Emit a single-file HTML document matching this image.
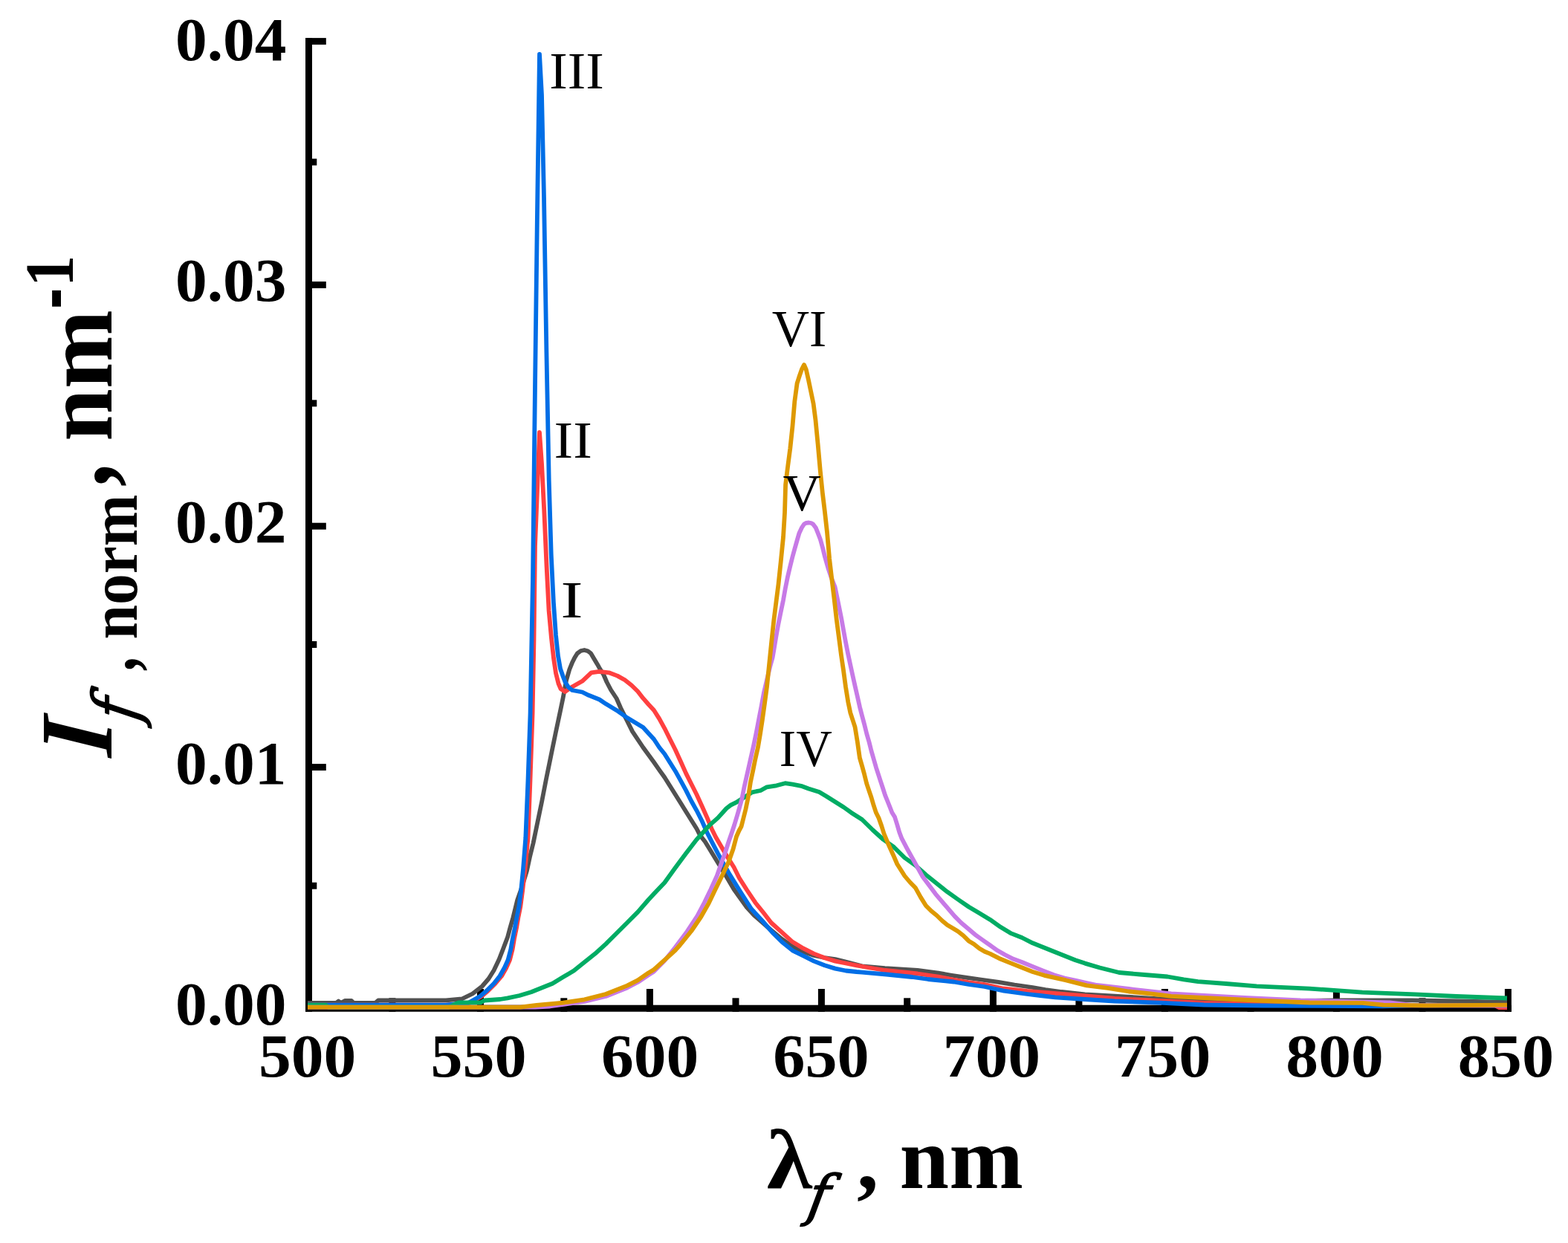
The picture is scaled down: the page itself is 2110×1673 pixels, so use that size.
<!DOCTYPE html>
<html lang="en"><head><meta charset="utf-8"><title>Normalized fluorescence spectra</title>
<style>html,body{margin:0;padding:0;background:#fff}body{width:2110px;height:1673px;overflow:hidden}svg{display:block}text{font-family:"Liberation Serif","DejaVu Serif",serif;fill:#000;font-kerning:none;white-space:pre}.c{fill:none;stroke-linejoin:round;stroke-linecap:butt}</style></head><body>
<svg width="2110" height="1673" viewBox="0 0 2110 1673">
<rect width="2110" height="1673" fill="#fff"/>
<g id="axes">
<rect x="411.00" y="51.00" width="9.00" height="1310.70" fill="#000"/>
<rect x="411.00" y="1352.70" width="1623.00" height="9.00" fill="#000"/>
<rect x="411.00" y="51.10" width="27.80" height="9.00" fill="#000"/>
<rect x="411.00" y="378.90" width="27.80" height="9.00" fill="#000"/>
<rect x="411.00" y="703.70" width="27.80" height="9.00" fill="#000"/>
<rect x="411.00" y="1028.10" width="27.80" height="9.00" fill="#000"/>
<rect x="411.00" y="213.60" width="15.30" height="9.00" fill="#000"/>
<rect x="411.00" y="538.30" width="15.30" height="9.00" fill="#000"/>
<rect x="411.00" y="863.00" width="15.30" height="9.00" fill="#000"/>
<rect x="411.00" y="1187.70" width="15.30" height="9.00" fill="#000"/>
<rect x="642.00" y="1331.00" width="9.00" height="30.70" fill="#000"/>
<rect x="869.90" y="1331.00" width="9.00" height="30.70" fill="#000"/>
<rect x="1100.90" y="1331.00" width="9.00" height="30.70" fill="#000"/>
<rect x="1331.90" y="1331.00" width="9.00" height="30.70" fill="#000"/>
<rect x="1562.90" y="1331.00" width="9.00" height="30.70" fill="#000"/>
<rect x="1793.90" y="1331.00" width="9.00" height="30.70" fill="#000"/>
<rect x="2024.90" y="1331.00" width="9.00" height="30.70" fill="#000"/>
<rect x="523.40" y="1343.30" width="9.00" height="18.40" fill="#000"/>
<rect x="754.30" y="1343.30" width="9.00" height="18.40" fill="#000"/>
<rect x="985.50" y="1343.30" width="9.00" height="18.40" fill="#000"/>
<rect x="1216.20" y="1343.30" width="9.00" height="18.40" fill="#000"/>
<rect x="1447.40" y="1343.30" width="9.00" height="18.40" fill="#000"/>
<rect x="1678.50" y="1343.30" width="9.00" height="18.40" fill="#000"/>
<rect x="1909.50" y="1343.30" width="9.00" height="18.40" fill="#000"/>
</g>
<g id="curves">
<polyline class="c" stroke="#515151" stroke-width="5.8" points="414.0,1350.0 452.0,1350.0 455.5,1347.5 459.0,1350.0 464.0,1347.0 473.0,1347.0 476.0,1350.0 505.0,1350.0 509.0,1346.5 600.0,1346.3 621.5,1344.5 635.9,1337.5 648.8,1327.5 657.4,1317.5 664.6,1306.0 671.7,1291.0 677.5,1276.0 683.2,1261.0 686.1,1250.0 690.4,1235.0 693.3,1223.3 696.1,1211.8 702.0,1195.0 709.0,1172.0 713.3,1152.0 717.6,1134.6 723.4,1106.5 729.1,1079.0 734.9,1049.0 741.3,1017.6 747.8,986.0 754.2,955.9 757.7,939.0 762.0,916.0 766.3,901.0 769.8,892.3 773.4,885.0 777.0,879.3 781.5,876.0 786.3,875.0 791.0,876.3 795.0,879.3 799.3,886.5 803.6,893.7 806.4,898.7 812.2,908.0 816.5,918.0 822.0,928.5 829.6,940.0 835.3,953.0 843.9,970.2 851.1,984.6 865.4,1006.0 880.0,1026.0 887.2,1036.3 894.3,1046.3 901.5,1057.8 908.7,1069.3 915.9,1080.8 923.0,1092.3 930.2,1103.7 937.4,1115.2 941.7,1123.8 948.9,1133.0 953.2,1140.0 966.0,1161.0 977.6,1180.0 987.6,1197.0 1004.8,1221.0 1014.9,1232.0 1037.8,1252.0 1052.2,1264.0 1066.5,1274.0 1080.9,1281.0 1095.2,1286.0 1109.6,1289.0 1123.9,1291.0 1138.0,1294.5 1160.0,1300.3 1190.8,1303.2 1234.6,1306.0 1262.6,1309.6 1279.0,1312.5 1297.7,1315.4 1320.0,1318.5 1343.6,1321.8 1365.2,1325.5 1389.6,1329.0 1406.8,1332.0 1428.3,1335.0 1460.0,1338.3 1500.0,1340.7 1560.0,1344.3 1620.0,1347.0 1700.0,1347.5 1800.0,1346.5 1900.0,1346.3 1960.0,1347.5 2028.0,1349.0"/>
<polyline class="c" stroke="#ff4040" stroke-width="5.8" points="414.0,1352.7 600.0,1352.7 632.0,1350.0 648.0,1341.0 656.5,1333.8 666.6,1323.7 675.0,1313.7 681.5,1302.2 686.0,1292.0 689.6,1277.8 692.0,1263.5 695.0,1249.0 697.4,1234.8 700.3,1220.4 703.1,1199.0 706.5,1170.0 710.5,1128.0 713.5,1050.0 716.6,960.0 718.5,860.0 720.0,735.0 723.0,660.0 726.0,582.0 729.0,624.0 732.2,686.0 735.5,761.0 738.6,822.0 742.0,859.0 745.0,886.0 748.0,906.0 751.5,920.0 754.5,927.0 760.5,931.0 769.0,925.0 783.5,916.8 795.7,905.3 806.4,903.9 819.3,905.3 830.8,909.6 840.9,915.3 850.0,922.5 858.2,930.5 865.3,939.7 872.6,948.0 880.0,956.0 887.2,967.4 894.3,980.3 901.5,994.7 908.7,1009.0 915.9,1024.8 923.0,1040.6 930.2,1055.0 937.4,1069.3 944.6,1085.0 951.7,1100.9 957.5,1115.2 963.2,1126.7 971.8,1141.5 980.4,1155.9 987.6,1167.3 994.8,1181.7 1004.8,1197.5 1016.3,1214.7 1027.8,1229.0 1037.8,1242.0 1052.2,1254.9 1066.5,1267.8 1080.9,1276.4 1095.2,1283.6 1109.6,1289.3 1123.9,1293.6 1138.2,1296.5 1152.6,1299.3 1167.0,1302.0 1190.8,1306.0 1234.6,1310.5 1262.6,1314.5 1283.0,1318.5 1303.0,1322.0 1325.0,1325.0 1350.0,1330.5 1382.0,1334.0 1400.0,1335.5 1460.0,1340.5 1500.0,1344.0 1560.0,1347.0 1620.0,1350.0 1700.0,1352.0 1800.0,1353.4 2012.0,1353.4 2017.0,1356.0 2028.0,1356.0"/>
<polyline class="c" stroke="#006ee6" stroke-width="5.8" points="414.0,1352.7 600.0,1352.7 630.0,1350.0 645.9,1341.0 654.5,1333.8 664.6,1323.7 672.5,1313.7 679.0,1302.2 683.6,1292.0 687.3,1277.8 689.8,1263.5 692.8,1249.0 695.4,1234.8 698.3,1220.4 701.1,1199.0 704.0,1170.0 707.3,1128.0 710.5,1050.0 713.6,960.0 717.0,780.0 720.0,520.0 723.0,285.0 724.5,179.0 726.0,73.0 729.0,128.0 732.0,266.0 735.4,474.0 738.7,646.0 741.7,746.0 744.9,811.0 748.0,855.0 751.0,883.0 754.0,900.0 757.5,910.0 760.5,918.0 765.0,925.0 770.0,929.0 783.5,931.5 792.2,935.8 806.6,941.5 815.2,947.3 829.6,955.9 843.9,966.0 865.4,979.0 880.0,995.0 887.2,1006.0 894.3,1014.8 901.5,1026.3 908.7,1037.7 915.9,1050.6 923.0,1063.6 930.2,1078.0 937.4,1090.8 944.6,1105.0 951.7,1121.0 957.5,1132.4 966.0,1148.7 980.4,1174.5 996.3,1200.3 1011.0,1223.3 1025.5,1239.0 1039.3,1254.9 1052.2,1267.8 1066.5,1279.3 1080.9,1286.4 1095.2,1293.6 1109.6,1299.3 1123.9,1303.6 1138.2,1306.5 1152.6,1308.0 1160.0,1308.6 1193.0,1311.5 1227.4,1315.0 1249.0,1318.0 1283.4,1321.5 1303.5,1325.0 1325.0,1328.0 1350.8,1333.7 1382.4,1338.0 1400.0,1340.0 1420.0,1342.3 1460.0,1345.0 1500.0,1347.5 1560.0,1349.7 1620.0,1352.5 1700.0,1353.5 1860.0,1354.3 1900.0,1353.4 2028.0,1353.4"/>
<polyline class="c" stroke="#00ac64" stroke-width="5.8" points="414.0,1352.7 438.0,1352.7 442.0,1355.5 604.0,1355.5 610.0,1352.5 617.2,1349.5 647.0,1349.3 652.0,1346.5 673.0,1345.0 683.0,1343.3 699.0,1340.0 714.8,1335.2 729.1,1329.5 743.5,1323.7 757.8,1315.0 772.2,1306.5 786.5,1295.0 800.9,1283.6 815.2,1270.6 829.6,1256.3 843.9,1242.0 858.2,1227.6 872.6,1211.0 880.0,1203.0 894.3,1188.0 908.7,1168.0 923.0,1148.7 937.4,1130.0 947.4,1119.0 954.6,1110.9 966.0,1100.9 977.6,1088.0 983.3,1083.6 991.9,1079.3 1003.4,1072.0 1012.0,1066.4 1023.5,1064.0 1032.0,1059.3 1045.0,1057.3 1056.5,1054.2 1066.5,1055.7 1078.0,1057.8 1088.0,1061.4 1102.4,1066.0 1112.4,1072.0 1123.9,1079.3 1135.4,1086.5 1145.4,1093.7 1160.0,1103.0 1174.3,1117.0 1188.7,1130.0 1203.0,1140.2 1217.4,1154.5 1231.7,1164.6 1246.0,1177.5 1260.4,1189.0 1274.8,1200.4 1289.0,1210.5 1303.5,1220.5 1317.8,1229.0 1332.2,1237.7 1346.5,1247.8 1360.9,1256.4 1375.2,1262.0 1389.6,1269.3 1403.9,1275.0 1418.2,1280.8 1432.6,1286.5 1447.0,1292.3 1460.0,1296.6 1480.0,1302.5 1506.0,1309.0 1534.0,1311.5 1571.0,1314.5 1593.0,1318.4 1612.0,1321.2 1650.0,1324.0 1691.0,1327.3 1762.2,1330.6 1833.3,1335.6 1904.4,1338.4 1960.0,1341.0 2028.0,1343.5"/>
<polyline class="c" stroke="#c77ae6" stroke-width="5.8" points="414.0,1355.7 720.0,1355.7 740.0,1354.5 786.5,1348.0 815.2,1341.0 843.9,1329.5 858.2,1322.0 872.6,1312.4 880.0,1307.5 894.3,1293.0 908.7,1275.0 924.5,1253.9 938.2,1233.0 948.0,1214.5 956.5,1197.0 964.8,1178.8 971.0,1161.0 976.0,1147.0 980.5,1133.0 985.0,1120.0 988.3,1110.0 991.9,1098.0 994.8,1088.0 998.4,1075.0 1001.2,1060.7 1004.4,1046.3 1007.7,1032.0 1010.6,1019.0 1014.1,1003.3 1017.7,986.0 1021.3,967.4 1024.6,950.2 1027.8,933.0 1032.0,915.0 1036.0,898.0 1039.6,885.0 1041.8,872.3 1044.4,856.6 1047.5,839.3 1050.7,823.6 1054.0,807.8 1056.8,792.0 1060.0,776.2 1063.0,763.3 1066.2,750.4 1069.3,738.9 1072.6,727.4 1075.5,717.4 1079.0,710.0 1082.0,705.5 1085.0,703.8 1088.4,703.5 1091.5,704.0 1094.1,705.5 1097.7,710.2 1100.6,717.4 1103.9,726.0 1107.1,737.5 1109.9,749.0 1114.2,764.0 1118.5,777.0 1123.6,790.0 1126.4,803.5 1129.3,817.8 1132.2,832.2 1135.0,848.0 1137.9,863.7 1141.0,879.5 1144.2,894.3 1147.3,908.7 1150.5,923.0 1153.8,937.4 1157.0,951.7 1160.0,963.2 1163.1,974.7 1166.3,987.6 1169.6,999.0 1172.5,1010.6 1175.8,1022.0 1178.9,1032.8 1182.0,1042.3 1185.0,1051.6 1188.1,1061.0 1191.1,1070.3 1194.2,1078.0 1197.3,1085.8 1200.4,1093.7 1204.0,1099.5 1207.3,1110.0 1210.2,1120.0 1213.5,1128.7 1220.3,1141.6 1227.4,1154.5 1234.6,1167.4 1241.8,1180.3 1250.4,1191.8 1259.0,1203.3 1267.6,1213.3 1276.2,1223.4 1284.8,1233.4 1293.4,1242.0 1302.0,1249.2 1312.0,1257.8 1322.0,1265.0 1332.2,1272.2 1342.2,1279.3 1352.3,1285.0 1363.7,1290.8 1375.2,1295.0 1389.6,1300.9 1403.9,1306.6 1418.2,1312.3 1432.6,1316.6 1447.0,1319.5 1460.0,1322.5 1476.0,1326.0 1519.0,1331.0 1576.0,1337.5 1620.0,1340.0 1675.0,1343.0 1750.0,1346.5 1870.0,1349.3 1900.0,1353.0 2028.0,1353.4"/>
<polyline class="c" stroke="#de9900" stroke-width="5.8" points="414.0,1355.7 700.0,1355.7 722.0,1353.0 757.8,1349.6 786.5,1345.3 815.2,1338.0 843.9,1326.6 858.2,1319.4 872.6,1309.4 880.0,1305.0 894.3,1292.2 908.7,1279.0 915.0,1272.0 930.4,1253.0 943.3,1234.0 953.8,1215.6 962.4,1197.5 971.5,1179.0 980.5,1160.0 986.5,1143.0 991.0,1126.0 994.5,1118.0 997.6,1112.3 1000.5,1100.9 1003.4,1089.4 1007.0,1072.0 1009.8,1053.5 1013.4,1036.3 1016.3,1022.0 1019.9,1006.2 1022.8,989.0 1025.9,968.9 1028.9,947.3 1032.0,924.4 1034.5,900.0 1038.2,863.7 1041.3,835.0 1044.4,810.6 1047.5,786.3 1050.7,756.1 1054.0,723.1 1056.0,690.0 1057.1,652.3 1060.1,628.0 1063.3,603.6 1066.5,573.4 1069.3,540.4 1072.6,516.0 1075.8,506.0 1078.8,497.4 1082.0,491.0 1084.8,497.4 1088.0,511.7 1091.3,527.5 1094.6,543.3 1097.4,564.8 1100.6,597.8 1103.8,633.7 1106.8,663.0 1109.9,688.7 1113.1,717.4 1116.1,751.8 1119.3,779.1 1122.6,806.3 1125.7,833.6 1128.9,858.0 1132.0,882.0 1134.9,901.5 1138.0,924.5 1141.3,945.0 1144.3,959.4 1147.4,968.9 1150.5,978.3 1153.8,998.4 1156.9,1020.1 1160.1,1031.1 1163.1,1042.1 1166.2,1054.6 1169.3,1063.9 1172.5,1073.2 1175.7,1084.2 1178.9,1093.8 1182.5,1101.0 1186.4,1112.0 1189.5,1122.0 1195.9,1137.3 1203.0,1153.0 1207.3,1163.0 1217.4,1179.0 1224.6,1187.5 1231.7,1194.7 1238.9,1207.6 1246.0,1219.0 1253.3,1226.3 1260.4,1232.0 1267.6,1239.0 1274.8,1245.0 1282.0,1249.2 1289.0,1253.5 1296.3,1259.3 1303.5,1266.4 1310.6,1270.7 1317.8,1276.5 1325.0,1280.8 1332.2,1283.6 1346.5,1290.8 1360.9,1296.6 1375.2,1302.3 1389.6,1308.0 1405.3,1312.8 1433.7,1319.2 1462.2,1326.4 1490.6,1329.9 1519.0,1334.5 1547.5,1337.3 1576.0,1340.9 1618.6,1343.0 1691.0,1346.5 1762.2,1349.5 1833.3,1349.8 1861.7,1352.7 1918.6,1353.4 2028.0,1352.7"/>
</g>
<g id="labels">
<text transform="translate(236.05 80.64) scale(1.0440 1)" style="font-weight:700;font-style:normal;font-size:81.80px">0.04</text>
<text transform="translate(236.05 405.44) scale(1.0440 1)" style="font-weight:700;font-style:normal;font-size:81.80px">0.03</text>
<text transform="translate(236.05 730.04) scale(1.0440 1)" style="font-weight:700;font-style:normal;font-size:81.80px">0.02</text>
<text transform="translate(236.05 1054.64) scale(1.0440 1)" style="font-weight:700;font-style:normal;font-size:81.80px">0.01</text>
<text transform="translate(236.05 1379.34) scale(1.0440 1)" style="font-weight:700;font-style:normal;font-size:81.80px">0.00</text>
<text transform="translate(348.01 1448.59) scale(1.0618 1)" style="font-weight:700;font-style:normal;font-size:82.50px">500</text>
<text transform="translate(579.41 1448.59) scale(1.0448 1)" style="font-weight:700;font-style:normal;font-size:82.50px">550</text>
<text transform="translate(808.95 1448.59) scale(1.0618 1)" style="font-weight:700;font-style:normal;font-size:82.50px">600</text>
<text transform="translate(1040.34 1448.59) scale(1.0448 1)" style="font-weight:700;font-style:normal;font-size:82.50px">650</text>
<text transform="translate(1268.63 1448.59) scale(1.0618 1)" style="font-weight:700;font-style:normal;font-size:82.50px">700</text>
<text transform="translate(1500.03 1448.59) scale(1.0448 1)" style="font-weight:700;font-style:normal;font-size:82.50px">750</text>
<text transform="translate(1730.35 1448.59) scale(1.0618 1)" style="font-weight:700;font-style:normal;font-size:82.50px">800</text>
<text transform="translate(1961.74 1448.59) scale(1.0448 1)" style="font-weight:700;font-style:normal;font-size:82.50px">850</text>
<text transform="translate(739.34 119.30) scale(1.0455 1)" style="font-weight:400;font-style:normal;font-size:70.30px">III</text>
<text transform="translate(745.52 615.70) scale(1.0953 1)" style="font-weight:400;font-style:normal;font-size:70.30px">II</text>
<text transform="translate(754.45 831.30) scale(1.2802 1)" style="font-weight:400;font-style:normal;font-size:70.30px">I</text>
<text transform="translate(1048.77 1031.00) scale(0.9559 1)" style="font-weight:400;font-style:normal;font-size:70.30px">IV</text>
<text transform="translate(1053.60 687.00) scale(1.0100 1)" style="font-weight:400;font-style:normal;font-size:70.30px">V</text>
<text transform="translate(1038.71 465.80) scale(0.9900 1)" style="font-weight:400;font-style:normal;font-size:70.30px">VI</text>
<text transform="translate(1031.74 1598.60) scale(1.0873 1)" style="font-weight:700;font-style:normal;font-size:114.50px">λ</text>
<text transform="translate(1084.17 1635.44) scale(1.0027 1) skewX(-10)" style="font-family:'DejaVu Serif','Liberation Serif',serif;font-weight:400;font-style:italic;font-size:74.80px;stroke:#000;stroke-width:1.6px;stroke-linejoin:round">f</text>
<text transform="translate(1153.06 1599.50) scale(1.0354 1)" style="font-weight:700;font-style:normal;font-size:113.00px">,</text>
<text transform="translate(1210.59 1598.70) scale(1.0059 1)" style="font-weight:700;font-style:normal;font-size:119.00px">nm</text>
<text transform="translate(150.40 1019.75) rotate(-90) scale(0.9209 1) skewX(-5.1)" style="font-weight:700;font-style:italic;font-size:139.00px">I</text>
<text transform="translate(185.72 972.69) rotate(-90) scale(0.9000 1) skewX(-10)" style="font-family:'DejaVu Serif','Liberation Serif',serif;font-weight:400;font-style:italic;font-size:85.00px;stroke:#000;stroke-width:1.6px;stroke-linejoin:round">f</text>
<text transform="translate(182.52 903.30) rotate(-90) scale(0.7600 1)" style="font-weight:700;font-style:normal;font-size:100.00px">,</text>
<text transform="translate(184.20 860.54) rotate(-90) scale(0.9278 1)" style="font-weight:700;font-style:normal;font-size:90.00px">norm</text>
<text transform="translate(148.32 655.15) rotate(-90) scale(0.8803 1)" style="font-weight:700;font-style:normal;font-size:142.00px">,</text>
<text transform="translate(149.50 594.12) rotate(-90) scale(0.9725 1)" style="font-weight:700;font-style:normal;font-size:131.00px">nm</text>
<text transform="translate(109.00 415.78) rotate(-90) scale(0.6000 1)" style="font-weight:700;font-style:normal;font-size:140.00px">-</text>
<text transform="translate(98.30 385.63) rotate(-90) scale(0.8936 1)" style="font-weight:700;font-style:normal;font-size:94.00px">1</text>
</g>
</svg></body></html>
